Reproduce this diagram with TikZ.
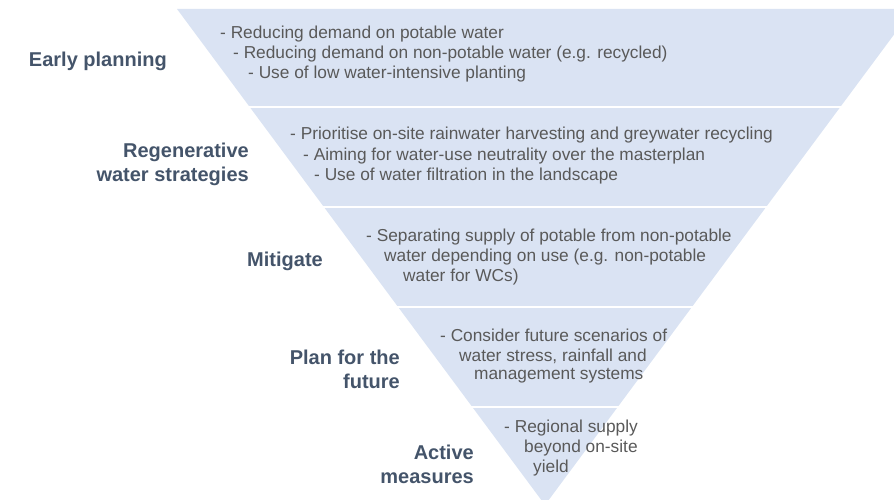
\documentclass[tikz,border=0pt]{standalone}
\usepackage{fontspec}
\setmainfont{Liberation Sans}
\definecolor{bandfill}{HTML}{DAE3F3}
\definecolor{bulletgray}{HTML}{595959}
\definecolor{labelslate}{HTML}{44546A}
\tikzset{
  bullet/.style={anchor=west, inner sep=0pt, yshift=-2pt, text=bulletgray, font=\fontsize{17.3}{20}\selectfont},
  stage/.style={anchor=east, inner sep=0pt, yshift=-3pt, align=right, text=labelslate, font=\bfseries\fontsize{20}{24}\selectfont}
}
\begin{document}
\begin{tikzpicture}[x=1pt, y=-1pt]
  \useasboundingbox (0,0) rectangle (894,500);
  \clip (0,0) rectangle (894,500);
  % inverted triangle and band gaps
  \fill[bandfill] (177,9) -- (913,9) -- (545,505) -- cycle;
  \foreach \y in {107,207,307,407}
    \draw[white, line width=2.5pt] (150,\y) -- (894,\y);

  % stage labels
  \node (1) [stage] at (167,58) {Early planning};
  \node (2) [stage] at (249,161) {Regenerative\\water strategies};
  \node (3) [stage] at (323,258) {Mitigate};
  \node (4) [stage] at (400,366) {Plan for the\\future};
  \node (5) [stage] at (474,461) {Active\\measures};

  % band texts
  \node (1a) [bullet] at (220,32) {- Reducing demand on potable water};
  \node (1b) [bullet] at (233,52) {- Reducing demand on non-potable water (e.g. recycled)};
  \node (1c) [bullet] at (248,72) {- Use of low water-intensive planting};

  \node (2a) [bullet] at (290,133) {- Prioritise on-site rainwater harvesting and greywater recycling};
  \node (2b) [bullet] at (303,154) {- Aiming for water-use neutrality over the masterplan};
  \node (2c) [bullet] at (314,174) {- Use of water filtration in the landscape};

  \node (3a) [bullet] at (366,235) {- Separating supply of potable from non-potable};
  \node (3b) [bullet] at (384,255) {water depending on use (e.g. non-potable};
  \node (3c) [bullet] at (403,275) {water for WCs)};

  \node (4a) [bullet] at (440,333) {- Consider future scenarios of};
  \node (4b) [bullet] at (459,354) {water stress, rainfall and};
  \node (4c) [bullet] at (474,374) {management systems};

  \node (5a) [bullet] at (504,426) {- Regional supply};
  \node (5b) [bullet] at (524,446) {beyond on-site};
  \node (5c) [bullet] at (533,466) {yield};
\end{tikzpicture}
\end{document}
